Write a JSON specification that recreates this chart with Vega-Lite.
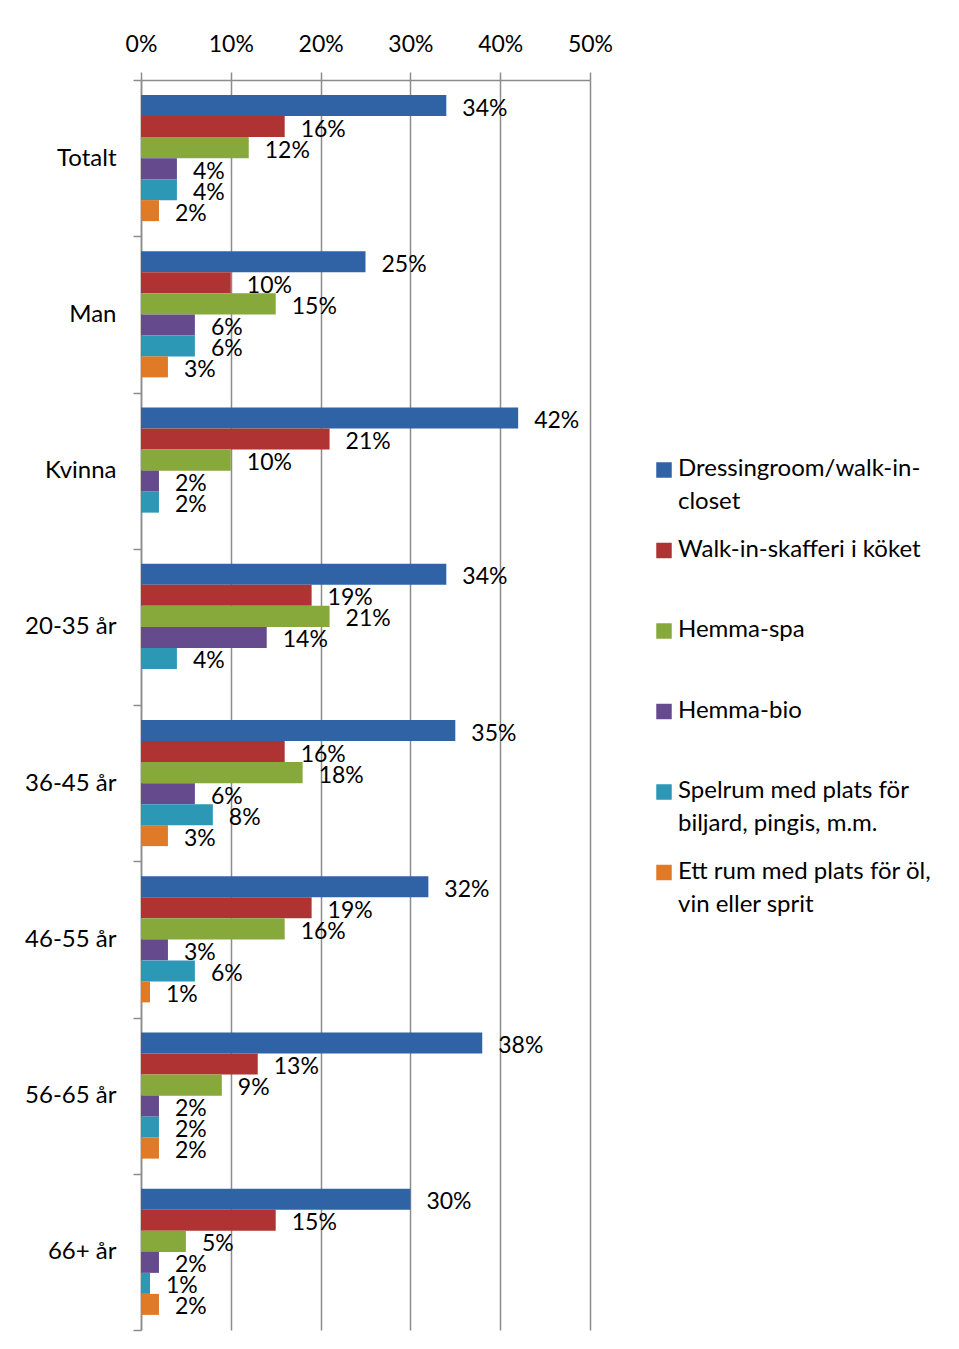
{
  "$schema": "https://vega.github.io/schema/vega-lite/v6.json",
  "width": 449,
  "height": 1250,
  "autosize": {"type": "none"},
  "padding": {"left": 141, "top": 80, "right": 369, "bottom": 19},
  "background": "white",
  "config": {
    "view": {"stroke": null},
    "font": "Lato",
    "text": {"font": "Lato"}
  },
  "data": {
    "values": [
      {"grupp": "Totalt", "serie": "Dressingroom/walk-in-closet", "v": 0.34},
      {"grupp": "Totalt", "serie": "Walk-in-skafferi i köket", "v": 0.16},
      {"grupp": "Totalt", "serie": "Hemma-spa", "v": 0.12},
      {"grupp": "Totalt", "serie": "Hemma-bio", "v": 0.04},
      {"grupp": "Totalt", "serie": "Spelrum med plats för biljard, pingis, m.m.", "v": 0.04},
      {"grupp": "Totalt", "serie": "Ett rum med plats för öl, vin eller sprit", "v": 0.02},
      {"grupp": "Man", "serie": "Dressingroom/walk-in-closet", "v": 0.25},
      {"grupp": "Man", "serie": "Walk-in-skafferi i köket", "v": 0.10},
      {"grupp": "Man", "serie": "Hemma-spa", "v": 0.15},
      {"grupp": "Man", "serie": "Hemma-bio", "v": 0.06},
      {"grupp": "Man", "serie": "Spelrum med plats för biljard, pingis, m.m.", "v": 0.06},
      {"grupp": "Man", "serie": "Ett rum med plats för öl, vin eller sprit", "v": 0.03},
      {"grupp": "Kvinna", "serie": "Dressingroom/walk-in-closet", "v": 0.42},
      {"grupp": "Kvinna", "serie": "Walk-in-skafferi i köket", "v": 0.21},
      {"grupp": "Kvinna", "serie": "Hemma-spa", "v": 0.10},
      {"grupp": "Kvinna", "serie": "Hemma-bio", "v": 0.02},
      {"grupp": "Kvinna", "serie": "Spelrum med plats för biljard, pingis, m.m.", "v": 0.02},
      {"grupp": "20-35 år", "serie": "Dressingroom/walk-in-closet", "v": 0.34},
      {"grupp": "20-35 år", "serie": "Walk-in-skafferi i köket", "v": 0.19},
      {"grupp": "20-35 år", "serie": "Hemma-spa", "v": 0.21},
      {"grupp": "20-35 år", "serie": "Hemma-bio", "v": 0.14},
      {"grupp": "20-35 år", "serie": "Spelrum med plats för biljard, pingis, m.m.", "v": 0.04},
      {"grupp": "36-45 år", "serie": "Dressingroom/walk-in-closet", "v": 0.35},
      {"grupp": "36-45 år", "serie": "Walk-in-skafferi i köket", "v": 0.16},
      {"grupp": "36-45 år", "serie": "Hemma-spa", "v": 0.18},
      {"grupp": "36-45 år", "serie": "Hemma-bio", "v": 0.06},
      {"grupp": "36-45 år", "serie": "Spelrum med plats för biljard, pingis, m.m.", "v": 0.08},
      {"grupp": "36-45 år", "serie": "Ett rum med plats för öl, vin eller sprit", "v": 0.03},
      {"grupp": "46-55 år", "serie": "Dressingroom/walk-in-closet", "v": 0.32},
      {"grupp": "46-55 år", "serie": "Walk-in-skafferi i köket", "v": 0.19},
      {"grupp": "46-55 år", "serie": "Hemma-spa", "v": 0.16},
      {"grupp": "46-55 år", "serie": "Hemma-bio", "v": 0.03},
      {"grupp": "46-55 år", "serie": "Spelrum med plats för biljard, pingis, m.m.", "v": 0.06},
      {"grupp": "46-55 år", "serie": "Ett rum med plats för öl, vin eller sprit", "v": 0.01},
      {"grupp": "56-65 år", "serie": "Dressingroom/walk-in-closet", "v": 0.38},
      {"grupp": "56-65 år", "serie": "Walk-in-skafferi i köket", "v": 0.13},
      {"grupp": "56-65 år", "serie": "Hemma-spa", "v": 0.09},
      {"grupp": "56-65 år", "serie": "Hemma-bio", "v": 0.02},
      {"grupp": "56-65 år", "serie": "Spelrum med plats för biljard, pingis, m.m.", "v": 0.02},
      {"grupp": "56-65 år", "serie": "Ett rum med plats för öl, vin eller sprit", "v": 0.02},
      {"grupp": "66+ år", "serie": "Dressingroom/walk-in-closet", "v": 0.30},
      {"grupp": "66+ år", "serie": "Walk-in-skafferi i köket", "v": 0.15},
      {"grupp": "66+ år", "serie": "Hemma-spa", "v": 0.05},
      {"grupp": "66+ år", "serie": "Hemma-bio", "v": 0.02},
      {"grupp": "66+ år", "serie": "Spelrum med plats för biljard, pingis, m.m.", "v": 0.01},
      {"grupp": "66+ år", "serie": "Ett rum med plats för öl, vin eller sprit", "v": 0.02}
    ]
  },
  "encoding": {
    "y": {
      "field": "grupp",
      "type": "nominal",
      "sort": null,
      "scale": {
        "domain": ["Totalt", "Man", "Kvinna", "20-35 år", "36-45 år", "46-55 år", "56-65 år", "66+ år"],
        "paddingInner": 0,
        "paddingOuter": 0
      },
      "axis": {
        "title": null,
        "orient": "left",
        "tickBand": "extent",
        "tickSize": 8,
        "tickColor": "#8c8c8c",
        "tickWidth": 1.5,
        "domainColor": "#8c8c8c",
        "domainWidth": 1.5,
        "labelFont": "Lato",
        "labelFontSize": 24,
        "labelColor": "#000000",
        "labelPadding": 17,
        "grid": false
      }
    },
    "yOffset": {
      "field": "serie",
      "type": "nominal",
      "sort": null,
      "scale": {
        "domain": ["Dressingroom/walk-in-closet", "Walk-in-skafferi i köket", "Hemma-spa", "Hemma-bio", "Spelrum med plats för biljard, pingis, m.m.", "Ett rum med plats för öl, vin eller sprit"],
        "paddingInner": 0,
        "paddingOuter": 0.72
      }
    },
    "x": {
      "field": "v",
      "type": "quantitative",
      "scale": {"domain": [0, 0.5], "nice": false},
      "axis": {
        "title": null,
        "orient": "top",
        "values": [0, 0.1, 0.2, 0.3, 0.4, 0.5],
        "format": ".0%",
        "labelFlush": false,
        "grid": true,
        "gridColor": "#8c8c8c",
        "gridWidth": 1.5,
        "tickSize": 8,
        "tickColor": "#8c8c8c",
        "tickWidth": 1.5,
        "domainColor": "#8c8c8c",
        "domainWidth": 1.5,
        "labelFont": "Lato",
        "labelFontSize": 23,
        "labelColor": "#000000",
        "labelPadding": 16
      }
    }
  },
  "layer": [
    {
      "mark": {"type": "bar"},
      "encoding": {
        "color": {
          "field": "serie",
          "type": "nominal",
          "scale": {
            "domain": ["Dressingroom/walk-in-closet", "Walk-in-skafferi i köket", "Hemma-spa", "Hemma-bio", "Spelrum med plats för biljard, pingis, m.m.", "Ett rum med plats för öl, vin eller sprit"],
            "range": ["#3063a6", "#b03333", "#87a93c", "#654a8e", "#2c98b5", "#e07a26"]
          },
          "legend": {
            "title": null,
            "orient": "none",
            "legendX": 511,
            "legendY": 378,
            "symbolType": "square",
            "symbolSize": 240,
            "symbolStrokeWidth": 0,
            "labelFont": "Lato",
            "labelFontSize": 24,
            "labelColor": "#000000",
            "labelOffset": 2,
            "labelLimit": 400,
            "labelBaseline": "top",
            "rowPadding": 23.5,
            "labelExpr": "datum.label == 'Dressingroom/walk-in-closet' ? ['Dressingroom/walk-in-', 'closet'] : datum.label == 'Spelrum med plats för biljard, pingis, m.m.' ? ['Spelrum med plats för', 'biljard, pingis, m.m.'] : datum.label == 'Ett rum med plats för öl, vin eller sprit' ? ['Ett rum med plats för öl,', 'vin eller sprit'] : [datum.label, ' ']",
            "encode": {
              "labels": {"update": {"lineHeight": {"value": 33}, "dy": {"value": -13}}}
            }
          }
        }
      }
    },
    {
      "mark": {"type": "text", "align": "left", "baseline": "middle", "dx": 16, "dy": 3, "fontSize": 23, "font": "Lato", "color": "#000000"},
      "encoding": {
        "text": {"field": "v", "type": "quantitative", "format": ".0%"}
      }
    }
  ]
}
